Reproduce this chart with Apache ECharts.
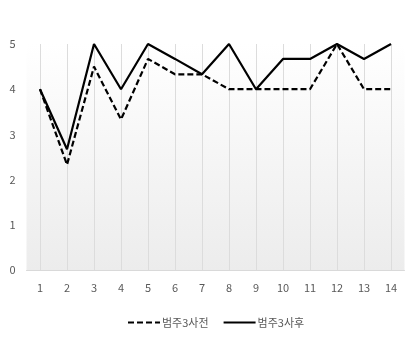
<!DOCTYPE html>
<html>
<head>
<meta charset="utf-8">
<script src="https://cdn.jsdelivr.net/npm/echarts@6/dist/echarts.min.js"></script>
<style>
  html, body { margin: 0; padding: 0; background: #fff; }
  #chart { width: 413px; height: 347px; }
</style>
</head>
<body>
<div id="chart"></div>
<script>
const categories = ['1','2','3','4','5','6','7','8','9','10','11','12','13','14'];
const beforeValues = [4, 2.33, 4.5, 3.33, 4.67, 4.33, 4.33, 4, 4, 4, 4, 5, 4, 4];
const afterValues = [4, 2.67, 5, 4, 5, 4.67, 4.33, 5, 4, 4.67, 4.67, 5, 4.67, 5];
const seriesNames = ['범주3사전', '범주3사후'];

const chart = echarts.init(document.getElementById('chart'));

const font = "'Noto Sans CJK KR', 'Noto Sans', sans-serif";

chart.setOption({
  animation: false,
  textStyle: { fontFamily: font },
  grid: {
    left: 26.5, right: 8.5, top: 44, bottom: 77,
    show: true,
    borderWidth: 0,
    backgroundColor: new echarts.graphic.LinearGradient(0, 0, 0, 1, [
      { offset: 0, color: '#ffffff' },
      { offset: 1, color: '#ececec' }
    ])
  },
  legend: {
    top: 312,
    left: 122,
    itemWidth: 32,
    itemHeight: 10,
    itemGap: 14,
    itemStyle: { color: 'transparent', borderWidth: 0 },
    textStyle: { color: '#595959', fontSize: 11, fontFamily: font, padding: [0, 0, 0, -3] },
    data: seriesNames
  },
  xAxis: {
    type: 'category',
    data: categories,
    boundaryGap: true,
    axisLine: { lineStyle: { color: '#d9d9d9', width: 1 } },
    axisTick: { show: false },
    axisLabel: { color: '#595959', fontSize: 11, margin: 12 },
    splitLine: { show: true, alignWithLabel: true, lineStyle: { color: '#dcdcdc', width: 1 } }
  },
  yAxis: {
    type: 'value',
    min: 0, max: 5, interval: 1,
    axisLine: { show: false },
    axisTick: { show: false },
    axisLabel: { color: '#595959', fontSize: 11, margin: 11 },
    splitLine: { show: false }
  },
  series: [
    {
      name: seriesNames[0],
      type: 'line',
      data: beforeValues,
      showSymbol: false,
      symbol: 'none',
      color: '#000',
      lineStyle: { color: '#000', width: 2.2, type: [6, 3] }
    },
    {
      name: seriesNames[1],
      type: 'line',
      data: afterValues,
      showSymbol: false,
      symbol: 'none',
      color: '#000',
      lineStyle: { color: '#000', width: 2.2 }
    }
  ]
});
</script>
</body>
</html>
